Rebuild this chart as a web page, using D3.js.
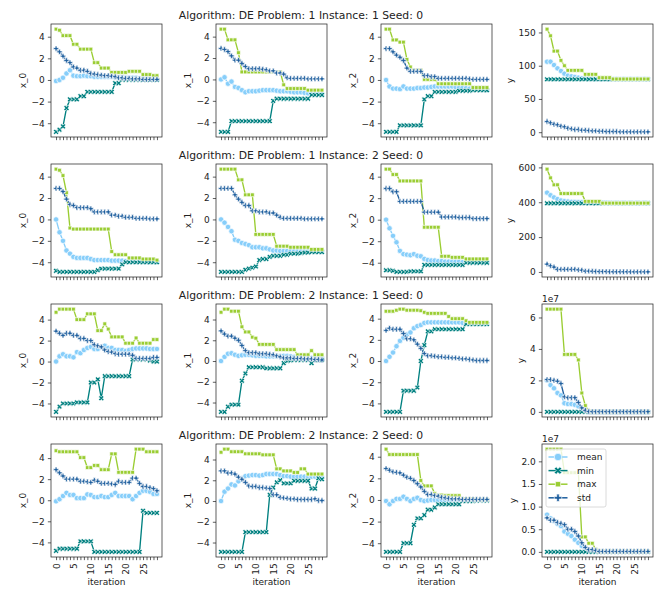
<!DOCTYPE html>
<html>
<head>
<meta charset="utf-8">
<script src="https://cdn.jsdelivr.net/npm/d3@7"></script>
<style>
  body { margin: 0; background: #fff; }
  svg text { font-family: "DejaVu Sans", sans-serif; fill: #222; }
</style>
</head>
<body>
<svg id="chart" width="664" height="598"></svg>
<script>
// DATA: one row per run, one panel per variable, four statistics per panel
const iterations = [0,1,2,3,4,5,6,7,8,9,10,11,12,13,14,15,16,17,18,19,20,21,22,23,24,25,26,27,28,29];
const stats = ["mean", "min", "max", "std"];
const variables = ["x_0", "x_1", "x_2", "y"];
const runTitles = [
  "Algorithm: DE Problem: 1 Instance: 1 Seed: 0",
  "Algorithm: DE Problem: 1 Instance: 2 Seed: 0",
  "Algorithm: DE Problem: 2 Instance: 1 Seed: 0",
  "Algorithm: DE Problem: 2 Instance: 2 Seed: 0"
];
const xTickLabels = [0, 5, 10, 15, 20, 25];
const xVarTicks = [-4, -2, 0, 2, 4];
const yTicksByRun = [[0, 50, 100, 150], [0, 200, 400, 600], [0, 2, 4, 6], [0, 0.5, 1, 1.5, 2]];
const yOffsetByRun = ["", "", "1e7", "1e7"];   // y of problem 2 is given in units of 1e7

// Problem 1, Instance 1
const p1i1_x0_mean = [-0.1,0.0,0.2,0.6,0.9,0.4,0.35,0.35,0.4,0.35,0.35,0.3,0.3,0.3,0.3,0.3,0.3,0.25,0.25,0.25,0.2,0.2,0.2,0.2,0.15,0.15,0.1,0.1,0.1,0.05];
const p1i1_x0_min  = [-4.8,-4.6,-4.3,-2.6,-1.8,-1.8,-1.8,-1.5,-1.5,-1.1,-1.1,-1.1,-1.1,-1.1,-1.1,-1.1,-1.1,-0.3,-0.3,0.02,0.02,0.02,0.02,0.02,0.02,0.02,0.02,0.02,0.02,0.02];
const p1i1_x0_max  = [4.7,4.6,4.1,4.1,4.1,3.3,3.3,2.85,2.85,2.85,2.85,1.6,1.6,1.1,1.1,1.1,0.7,0.7,0.7,0.7,0.7,0.8,0.8,0.8,0.8,0.5,0.5,0.5,0.4,0.4];
const p1i1_x0_std  = [2.9,2.6,2.2,1.8,1.6,1.2,1.1,0.9,0.9,0.8,0.6,0.55,0.5,0.45,0.4,0.4,0.35,0.3,0.2,0.2,0.15,0.15,0.1,0.1,0.1,0.05,0.05,0.05,0.05,0.05];
const p1i1_x1_mean = [0,0.2,-0.4,-0.2,-0.7,-0.8,-1.0,-1.2,-1.1,-1.1,-1.1,-1.05,-1.0,-1.0,-1.0,-1.0,-1.05,-1.1,-1.1,-1.1,-1.15,-1.2,-1.2,-1.2,-1.25,-1.3,-1.3,-1.3,-1.3,-1.35];
const p1i1_x1_min  = [-4.9,-4.9,-4.9,-3.9,-3.9,-3.9,-3.9,-3.9,-3.9,-3.9,-3.9,-3.9,-3.9,-3.9,-3.9,-2.0,-1.8,-1.8,-1.8,-1.8,-1.8,-1.8,-1.8,-1.8,-1.8,-1.8,-1.45,-1.45,-1.45,-1.45];
const p1i1_x1_max  = [4.7,4.7,3.7,3.7,3.7,2.5,0.7,0.7,0.7,0.7,0.7,0.7,0.7,0.7,0.7,0.7,0.7,0.7,-0.5,-0.85,-0.85,-0.85,-0.85,-0.85,-0.85,-1.0,-1.0,-1.0,-1.0,-1.0];
const p1i1_x1_std  = [2.9,2.8,2.6,2.2,1.8,1.8,1.5,1.2,1.0,1.0,1.0,1.0,0.95,0.9,0.8,0.8,0.6,0.6,0.5,0.15,0.1,0.1,0.1,0.1,0.1,0.05,0.05,0.05,0.05,0.05];
const p1i1_x2_mean = [0,-0.6,-0.8,-0.8,-0.85,-0.6,-0.8,-0.8,-0.8,-0.75,-0.75,-0.7,-0.7,-0.65,-0.6,-0.6,-0.6,-0.6,-0.6,-0.6,-0.65,-0.7,-0.7,-0.75,-0.8,-0.8,-0.85,-0.85,-0.9,-0.9];
const p1i1_x2_min  = [-4.8,-4.8,-4.8,-4.8,-4.2,-4.2,-4.2,-4.2,-4.2,-4.2,-4.2,-1.8,-1.5,-1.5,-1.1,-1.1,-1.1,-1.1,-1.1,-1.1,-1.1,-1.0,-1.0,-1.0,-1.0,-0.95,-0.95,-0.95,-0.95,-0.95];
const p1i1_x2_max  = [4.7,4.7,3.7,3.7,3.5,3.5,1.9,1.2,0.9,0.9,0.9,0.05,0.05,0.05,0.05,-0.35,-0.35,-0.35,-0.35,-0.35,-0.35,-0.35,-0.35,-0.35,-0.35,-0.7,-0.7,-0.7,-0.7,-0.7];
const p1i1_x2_std  = [2.9,2.9,2.6,2.3,2.1,1.8,1.1,0.8,0.8,0.8,0.8,0.4,0.4,0.3,0.3,0.15,0.15,0.15,0.15,0.15,0.15,0.15,0.15,0.15,0.1,0.05,0.05,0.05,0.05,0.05];
const p1i1_y_mean  = [106,106,101,96,92,88,85,84,83,82,81,81,80.5,80.5,80,80,80,80,80,80,80,80,80,80,80,80,80,80,80,80];
const p1i1_y_min   = [79.5,79.5,79.5,79.5,79.5,79.5,79.5,79.5,79.5,79.5,79.5,79.5,79.5,79.5,79.5,79.5,79.5,79.5,79.5,79.5,79.5,79.5,79.5,79.5,79.5,79.5,79.5,79.5,79.5,79.5];
const p1i1_y_max   = [155,145,122,122,108,100,93,93,93,93,93,87,87,87,87,82,82,82,82,80,80,80,80,80,80,80,80,80,80,80];
const p1i1_y_std   = [16,14,12,11,9,8,6,5,4,4,3,3,2.5,2,2,1.5,1.5,1,1,1,1,0.5,0.5,0.5,0.5,0.5,0.5,0.5,0.5,0.5];

// Problem 1, Instance 2
const p1i2_x0_mean = [0,-1.2,-2.0,-2.9,-3.2,-3.5,-3.6,-3.6,-3.6,-3.6,-3.7,-3.8,-3.8,-3.8,-3.8,-3.8,-3.85,-3.85,-3.85,-3.85,-3.9,-3.9,-3.9,-3.9,-3.9,-3.9,-3.95,-3.95,-3.95,-3.95];
const p1i2_x0_min  = [-4.8,-4.9,-4.9,-4.9,-4.9,-4.9,-4.9,-4.9,-4.9,-4.9,-4.9,-4.9,-4.75,-4.6,-4.6,-4.6,-4.6,-4.6,-4.6,-4.2,-4.0,-4.0,-4.0,-4.0,-4.0,-4.0,-4.0,-4.0,-4.0,-4.0];
const p1i2_x0_max  = [4.7,4.6,4.1,2.5,-0.8,-0.9,-0.9,-0.9,-0.9,-0.9,-0.9,-0.9,-0.9,-0.9,-0.9,-0.9,-3.0,-3.3,-3.3,-3.3,-3.3,-3.6,-3.6,-3.6,-3.6,-3.7,-3.7,-3.7,-3.7,-3.8];
const p1i2_x0_std  = [2.9,2.9,2.6,1.9,1.4,1.3,1.1,1.1,1.1,1.1,1.0,0.7,0.7,0.7,0.7,0.7,0.4,0.4,0.3,0.3,0.2,0.2,0.2,0.1,0.1,0.1,0.1,0.05,0.05,0.05];
const p1i2_x1_mean = [0,-0.3,-0.7,-1.1,-1.9,-2.0,-2.2,-2.3,-2.4,-2.6,-2.6,-2.6,-2.7,-2.7,-2.8,-2.9,-2.9,-2.95,-2.95,-2.95,-2.95,-2.95,-2.95,-2.95,-2.95,-2.95,-2.95,-2.95,-2.95,-2.95];
const p1i2_x1_min  = [-4.9,-4.9,-4.9,-4.9,-4.9,-4.9,-4.9,-4.7,-4.6,-4.5,-4.4,-3.8,-3.7,-3.7,-3.5,-3.4,-3.4,-3.4,-3.3,-3.3,-3.2,-3.2,-3.2,-3.15,-3.1,-3.1,-3.05,-3.05,-3.05,-3.05];
const p1i2_x1_max  = [4.7,4.7,4.7,4.7,4.7,3.7,3.7,2.3,2.3,2.3,-1.4,-1.4,-1.4,-1.4,-1.4,-1.4,-2.5,-2.5,-2.5,-2.5,-2.6,-2.6,-2.6,-2.6,-2.6,-2.6,-2.8,-2.8,-2.8,-2.8];
const p1i2_x1_std  = [2.9,2.9,2.9,2.9,2.3,1.9,1.6,1.3,1.3,0.8,0.8,0.7,0.7,0.7,0.6,0.6,0.4,0.2,0.1,0.1,0.1,0.1,0.1,0.1,0.05,0.05,0.05,0.05,0.05,0.05];
const p1i2_x2_mean = [0,-0.8,-1.5,-2.1,-2.9,-3.2,-3.25,-3.3,-3.2,-3.35,-3.4,-3.65,-3.75,-3.8,-3.8,-3.85,-3.85,-3.9,-3.9,-3.9,-3.9,-3.9,-3.95,-3.95,-3.95,-3.95,-3.95,-3.95,-3.95,-3.95];
const p1i2_x2_min  = [-4.7,-4.7,-4.75,-4.85,-4.85,-4.85,-4.85,-4.8,-4.8,-4.8,-4.8,-4.2,-4.2,-4.2,-4.2,-4.2,-4.2,-4.2,-4.2,-4.2,-4.2,-4.2,-4.2,-4.0,-4.0,-4.0,-4.0,-4.0,-4.0,-4.0];
const p1i2_x2_max  = [4.7,4.7,4.2,4.2,3.6,3.6,3.6,3.6,3.6,3.6,3.6,-0.7,-0.7,-0.7,-0.7,-0.7,-3.4,-3.4,-3.4,-3.5,-3.5,-3.5,-3.5,-3.65,-3.65,-3.65,-3.65,-3.65,-3.65,-3.65];
const p1i2_x2_std  = [2.9,2.9,2.6,2.6,1.7,1.7,1.7,1.7,1.7,1.7,1.7,0.7,0.7,0.7,0.7,0.7,0.25,0.25,0.25,0.25,0.25,0.2,0.2,0.2,0.2,0.1,0.1,0.1,0.1,0.1];
const p1i2_y_mean  = [455,440,428,418,410,406,404,402,401,400,400,399,399,398,398,397,397,397,396,396,396,396,396,395.5,395.5,395.5,395.5,395.5,395.5,395.5];
const p1i2_y_min   = [394,394,394,394,394,394,394,394,394,394,394,394,394,394,394,394,394,394,394,394,394,394,394,394,394,394,394,394,394,394];
const p1i2_y_max   = [590,540,500,500,450,450,450,450,450,450,450,405,405,405,405,405,395,395,395,395,395,395,395,395,395,395,395,395,395,395];
const p1i2_y_std   = [45,35,28,15,15,15,15,15,15,12,10,5,5,4,3,2,2,2,1,1,1,1,1,1,0.5,0.5,0.5,0.5,0.5,0.5];

// Problem 2, Instance 1
const p2i1_x0_mean = [0,0.5,0.7,0.5,0.5,0.4,0.9,0.8,1.1,1.3,1.4,1.2,1.2,1.4,1.5,1.3,1.3,1.1,1.1,1.1,1.0,1.1,1.2,1.25,1.25,1.25,1.25,1.2,1.2,1.2];
const p2i1_x0_min  = [-4.8,-4.3,-4.0,-4.0,-4.0,-4.0,-3.9,-3.9,-3.9,-3.9,-2.0,-2.0,-1.7,-3.5,-1.4,-1.4,-1.4,-1.4,-1.4,-1.4,-1.4,-1.4,0.2,0.2,0.2,0.2,0.2,0.1,0.0,0.0];
const p2i1_x0_max  = [4.7,5.0,5.0,5.0,5.0,5.0,4.0,4.0,4.0,4.55,4.55,4.55,2.95,2.95,3.6,3.1,2.35,2.35,2.35,2.35,1.75,1.75,1.75,2.25,1.75,1.75,1.75,1.75,2.1,2.1];
const p2i1_x0_std  = [2.9,2.7,2.5,2.7,2.7,2.5,2.5,2.2,2.2,2.0,2.0,1.6,1.5,1.4,1.1,0.95,0.9,0.75,0.7,0.7,0.7,0.7,0.6,0.3,0.3,0.3,0.3,0.3,0.4,0.4];
const p2i1_x1_mean = [0,0.4,0.7,0.75,0.6,0.5,0.55,0.6,0.6,0.55,0.5,0.5,0.5,0.45,0.45,0.45,0.45,0.5,0.5,0.5,0.45,0.4,0.35,0.3,0.3,0.3,0.3,0.3,0.3,0.3];
const p2i1_x1_min  = [-4.9,-4.9,-4.4,-4.2,-4.2,-4.2,-1.9,-1.2,-0.6,-0.6,-0.6,-0.6,-0.6,-0.7,-0.7,-0.7,-0.7,-0.7,-0.2,0.0,0.05,0.1,0.1,0.1,0.1,0.1,-0.2,0.1,0.1,0.1];
const p2i1_x1_max  = [4.7,5.0,5.0,4.8,4.8,4.8,3.3,2.8,2.8,2.3,2.2,1.6,1.6,1.6,1.6,1.6,1.1,1.1,1.1,1.1,1.1,1.1,0.6,0.6,0.6,0.6,1.0,0.6,0.6,0.6];
const p2i1_x1_std  = [2.9,2.6,2.4,2.4,2.2,2.0,1.5,1.0,0.8,0.8,0.8,0.7,0.7,0.7,0.65,0.6,0.5,0.4,0.3,0.3,0.3,0.25,0.25,0.25,0.2,0.2,0.2,0.15,0.15,0.1];
const p2i1_x2_mean = [0,0.4,0.8,1.4,1.9,2.2,2.5,2.7,3.1,3.3,3.4,3.6,3.65,3.65,3.65,3.65,3.65,3.65,3.65,3.65,3.65,3.65,3.6,3.6,3.55,3.55,3.55,3.55,3.55,3.55];
const p2i1_x2_min  = [-4.8,-4.8,-4.8,-4.8,-4.8,-2.8,-2.8,-2.8,-2.8,-2.5,0.0,1.5,2.8,2.8,3.0,3.0,3.0,3.0,3.0,3.0,3.0,3.0,3.0,3.5,3.5,3.5,3.5,3.5,3.5,3.5];
const p2i1_x2_max  = [4.7,4.7,4.7,4.8,4.9,4.9,4.8,4.8,4.8,4.8,4.75,4.6,4.5,4.5,4.5,4.5,4.5,4.5,4.2,4.0,4.0,4.0,4.0,3.8,3.65,3.65,3.65,3.65,3.65,3.65];
const p2i1_x2_std  = [2.9,3.1,3.0,3.0,3.0,2.6,2.1,2.1,2.0,1.6,1.2,0.7,0.5,0.5,0.45,0.4,0.4,0.35,0.35,0.3,0.3,0.25,0.2,0.2,0.15,0.1,0.05,0.05,0.05,0.05];
const p2i1_y_mean  = [2.0,1.7,1.5,1.2,1.05,0.55,0.5,0.5,0.45,0.35,0.15,0.05,0.01,0.01,0.01,0.01,0.01,0.01,0.01,0.01,0.01,0.01,0.01,0.01,0.01,0.01,0.01,0.01,0.01,0.01];
const p2i1_y_min   = [0,0,0,0,0,0,0,0,0,0,0,0,0,0,0,0,0,0,0,0,0,0,0,0,0,0,0,0,0,0];
const p2i1_y_max   = [6.53,6.53,6.53,6.53,6.53,3.65,3.65,3.65,3.65,3.3,1.2,0.4,0.05,0.02,0.01,0.01,0.01,0.01,0.01,0.01,0.01,0.01,0.01,0.01,0.01,0.01,0.01,0.01,0.01,0.01];
const p2i1_y_std   = [2.05,2.05,2.0,1.95,1.8,0.95,0.9,0.9,0.9,0.6,0.25,0.1,0.02,0.01,0.01,0.01,0.01,0.01,0.01,0.01,0.01,0.01,0.01,0.01,0.01,0.01,0.01,0.01,0.01,0.01];

// Problem 2, Instance 2
const p2i2_x0_mean = [-0.1,0.1,0.4,0.7,0.5,0.5,0.2,0.2,0.2,0.55,0.5,0.3,0.3,0.4,0.3,0.3,0.5,0.7,0.4,0.4,0.4,0.4,0.1,0.4,0.7,0.9,0.9,0.8,0.6,0.6];
const p2i2_x0_min  = [-4.8,-4.6,-4.6,-4.6,-4.6,-4.6,-4.6,-3.9,-3.9,-3.9,-3.9,-4.9,-4.9,-4.9,-4.9,-4.9,-4.9,-4.9,-4.9,-4.9,-4.9,-4.9,-4.9,-4.9,-4.9,-1.0,-1.2,-1.2,-1.2,-1.2];
const p2i2_x0_max  = [4.7,4.6,4.6,4.6,4.6,4.6,4.6,4.05,4.05,3.1,3.1,3.3,3.3,2.9,2.9,2.9,4.4,4.4,2.65,2.65,2.65,2.65,2.65,4.85,4.85,4.85,4.6,4.6,4.6,4.6];
const p2i2_x0_std  = [2.9,2.6,2.3,2.0,2.0,2.0,2.0,1.8,1.8,1.75,1.7,1.9,1.8,1.6,1.6,1.6,1.55,1.5,1.8,1.7,1.7,1.7,2.1,2.1,1.6,1.3,1.3,1.2,1.1,0.9];
const p2i2_x1_mean = [0,0.9,1.2,1.6,1.5,1.9,2.2,2.4,2.45,2.5,2.5,2.45,2.5,2.6,2.6,2.6,2.6,2.5,2.4,2.4,2.35,2.35,2.35,2.35,2.35,2.35,2.35,2.35,2.3,2.3];
const p2i2_x1_min  = [-4.9,-4.9,-4.9,-4.9,-4.9,-4.9,-4.9,-3.0,-3.0,-3.0,-3.0,-3.0,-3.0,-3.0,0.6,1.3,1.8,2.0,1.7,1.7,1.7,1.95,1.95,1.95,1.95,1.95,1.2,1.2,2.2,2.1];
const p2i2_x1_max  = [4.7,5.0,5.0,4.75,4.75,4.75,4.75,4.55,4.55,4.55,4.55,4.55,4.45,4.45,4.45,4.45,3.1,3.1,2.9,2.9,2.9,2.75,2.75,3.1,3.1,2.6,2.6,2.6,2.6,2.6];
const p2i2_x1_std  = [2.9,2.9,2.7,2.7,2.6,2.3,2.1,1.8,1.45,1.4,1.4,1.3,1.3,1.25,1.2,0.6,0.6,0.35,0.3,0.25,0.2,0.2,0.15,0.15,0.15,0.15,0.15,0.2,0.05,0.05];
const p2i2_x2_mean = [-0.1,-0.4,-0.1,0.1,0.1,0.3,0.1,-0.1,0.1,0.2,0.0,-0.1,-0.05,0.0,0.0,0.0,0.0,0.0,0.0,0.0,0.0,0.0,0.0,0.0,0.0,0.0,0.0,0.0,0.0,0.0];
const p2i2_x2_min  = [-4.8,-4.8,-4.8,-4.8,-4.8,-4.0,-4.0,-4.0,-2.3,-1.7,-1.7,-1.4,-0.9,-0.9,-0.7,-0.4,-0.4,-0.4,-0.4,-0.4,-0.4,-0.4,-0.1,-0.1,-0.1,-0.1,-0.05,-0.05,-0.05,-0.05];
const p2i2_x2_max  = [4.7,4.2,4.2,4.2,4.2,4.2,4.2,4.2,4.2,4.2,1.8,1.3,1.3,1.3,0.6,0.45,0.45,0.4,0.4,0.4,0.4,0.4,0.1,0.1,0.1,0.1,0.05,0.05,0.05,0.05];
const p2i2_x2_std  = [2.9,2.75,2.6,2.55,2.5,2.3,2.1,2.0,1.8,1.5,1.2,0.8,0.5,0.5,0.4,0.35,0.25,0.2,0.15,0.1,0.1,0.1,0.05,0.05,0.05,0.05,0.05,0.05,0.05,0.05];
const p2i2_y_mean  = [0.82,0.74,0.68,0.62,0.57,0.45,0.4,0.35,0.27,0.2,0.13,0.08,0.05,0.03,0.02,0.01,0.01,0.01,0.01,0.01,0.01,0.01,0.01,0.01,0.01,0.01,0.01,0.01,0.01,0.01];
const p2i2_y_min   = [0,0,0,0,0,0,0,0,0,0,0,0,0,0,0,0,0,0,0,0,0,0,0,0,0,0,0,0,0,0];
const p2i2_y_max   = [2.27,2.27,2.27,2.27,2.27,1.75,1.75,1.75,1.75,1.75,0.33,0.33,0.19,0.19,0.05,0.01,0.01,0.01,0.01,0.01,0.01,0.01,0.01,0.01,0.01,0.01,0.01,0.01,0.01,0.01];
const p2i2_y_std   = [0.75,0.7,0.7,0.65,0.63,0.6,0.5,0.5,0.45,0.35,0.2,0.1,0.05,0.05,0.03,0.01,0.01,0.01,0.01,0.01,0.01,0.01,0.01,0.01,0.01,0.01,0.01,0.01,0.01,0.01];

const runs = [
  { x_0: {mean: p1i1_x0_mean, min: p1i1_x0_min, max: p1i1_x0_max, std: p1i1_x0_std},
    x_1: {mean: p1i1_x1_mean, min: p1i1_x1_min, max: p1i1_x1_max, std: p1i1_x1_std},
    x_2: {mean: p1i1_x2_mean, min: p1i1_x2_min, max: p1i1_x2_max, std: p1i1_x2_std},
    y:   {mean: p1i1_y_mean,  min: p1i1_y_min,  max: p1i1_y_max,  std: p1i1_y_std} },
  { x_0: {mean: p1i2_x0_mean, min: p1i2_x0_min, max: p1i2_x0_max, std: p1i2_x0_std},
    x_1: {mean: p1i2_x1_mean, min: p1i2_x1_min, max: p1i2_x1_max, std: p1i2_x1_std},
    x_2: {mean: p1i2_x2_mean, min: p1i2_x2_min, max: p1i2_x2_max, std: p1i2_x2_std},
    y:   {mean: p1i2_y_mean,  min: p1i2_y_min,  max: p1i2_y_max,  std: p1i2_y_std} },
  { x_0: {mean: p2i1_x0_mean, min: p2i1_x0_min, max: p2i1_x0_max, std: p2i1_x0_std},
    x_1: {mean: p2i1_x1_mean, min: p2i1_x1_min, max: p2i1_x1_max, std: p2i1_x1_std},
    x_2: {mean: p2i1_x2_mean, min: p2i1_x2_min, max: p2i1_x2_max, std: p2i1_x2_std},
    y:   {mean: p2i1_y_mean,  min: p2i1_y_min,  max: p2i1_y_max,  std: p2i1_y_std} },
  { x_0: {mean: p2i2_x0_mean, min: p2i2_x0_min, max: p2i2_x0_max, std: p2i2_x0_std},
    x_1: {mean: p2i2_x1_mean, min: p2i2_x1_min, max: p2i2_x1_max, std: p2i2_x1_std},
    x_2: {mean: p2i2_x2_mean, min: p2i2_x2_min, max: p2i2_x2_max, std: p2i2_x2_std},
    y:   {mean: p2i2_y_mean,  min: p2i2_y_min,  max: p2i2_y_max,  std: p2i2_y_std} }
];

// SETUP: layout of the 4x4 grid
const colLeft = [51, 216, 381, 542], colWidth = 111;
const rowTop = [24, 164, 304, 444], rowHeight = 113;
const titleX = 301;
const colors = { mean: "#87cefa", min: "#008080", max: "#9acd32", std: "#1d5e9e" };
const tickLen = 3.15, tickPad = 3.15, lineW = 1.35, markerSize = 5.4;

const svg = d3.select("#chart");

// marker shapes: circle, filled X, square, filled plus
function polyPath(pts, size) {
  return "M" + pts.map(p => (p[0] * size).toFixed(2) + "," + (p[1] * size).toFixed(2)).join("L") + "Z";
}
const plusPts = [[-1,-3],[1,-3],[1,-1],[3,-1],[3,1],[1,1],[1,3],[-1,3],[-1,1],[-3,1],[-3,-1],[-1,-1]].map(p => [p[0] / 6, p[1] / 6]);
const xPts = [[0.25,0],[0.5,0.25],[0.75,0],[1,0.25],[0.75,0.5],[1,0.75],[0.75,1],[0.5,0.75],[0.25,1],[0,0.75],[0.25,0.5],[0,0.25]].map(p => [p[0] - 0.5, p[1] - 0.5]);
function markerFor(stat, size) {
  if (stat === "mean") return d3.symbol(d3.symbolCircle, Math.PI * (size / 2) ** 2)();
  if (stat === "max") return d3.symbol(d3.symbolSquare, (size / Math.SQRT2) ** 2)();
  if (stat === "min") return polyPath(xPts, size);
  return polyPath(plusPts, size);
}

const minus = s => String(s).replace("-", "\u2212");

runs.forEach((run, r) => {
  // row title
  svg.append("text")
    .attr("x", titleX).attr("y", rowTop[r] - 5)
    .attr("text-anchor", "middle")
    .style("font-size", "10.8px")
    .text(runTitles[r]);

  variables.forEach((v, c) => {
    const data = run[v];
    const g = svg.append("g").attr("transform", `translate(${colLeft[c]},${rowTop[r]})`);

    const all = stats.flatMap(s => data[s]);
    const [lo, hi] = d3.extent(all);
    const pad = (hi - lo) * 0.05;

    const x = d3.scaleLinear().domain([-1.45, 30.45]).range([0, colWidth]);
    const y = d3.scaleLinear().domain([lo - pad, hi + pad]).range([rowHeight, 0]);

    // lines + markers, one series after the other
    const line = d3.line().x((d, i) => x(iterations[i])).y(d => y(d));
    stats.forEach(s => {
      g.append("path").datum(data[s])
        .attr("fill", "none").attr("stroke", colors[s]).attr("stroke-width", lineW)
        .attr("d", line);
      g.append("g").selectAll("path").data(data[s]).join("path")
        .attr("transform", (d, i) => `translate(${x(iterations[i])},${y(d)})`)
        .attr("d", markerFor(s, markerSize))
        .attr("fill", colors[s]).attr("stroke", "#fff").attr("stroke-width", 0.68);
    });

    // x axis: a tick per iteration, labels only on the last row
    const last = r === runs.length - 1;
    const xAxis = g.append("g").attr("transform", `translate(0,${rowHeight})`)
      .call(d3.axisBottom(x).tickValues(iterations).tickSize(tickLen).tickPadding(tickPad)
        .tickFormat(d => (last && xTickLabels.includes(d)) ? d : ""));
    xAxis.attr("font-size", null).attr("font-family", null);
    xAxis.select(".domain").remove();
    xAxis.selectAll("line").attr("stroke", "#222").attr("stroke-width", 0.72);
    xAxis.selectAll("text")
      .style("font-size", "9px")
      .attr("y", null).attr("dy", null)
      .attr("transform", `translate(0,${tickLen + tickPad}) rotate(-90)`)
      .attr("text-anchor", "end")
      .attr("dominant-baseline", "central");

    // y axis
    const yTicks = c === 3 ? yTicksByRun[r] : xVarTicks;
    const fmt = (c === 3 && r === 3) ? d => minus(d3.format(".1f")(d)) : d => minus(d);
    const yAxis = g.append("g")
      .call(d3.axisLeft(y).tickValues(yTicks).tickSize(tickLen).tickPadding(tickPad).tickFormat(fmt));
    yAxis.attr("font-size", null).attr("font-family", null);
    yAxis.select(".domain").remove();
    yAxis.selectAll("line").attr("stroke", "#222").attr("stroke-width", 0.72);
    yAxis.selectAll("text").style("font-size", "9px");

    // spines
    g.append("rect")
      .attr("width", colWidth).attr("height", rowHeight)
      .attr("fill", "none").attr("stroke", "#222").attr("stroke-width", 0.72);

    // y label, placed left of the widest tick label
    const minX = d3.min(yAxis.selectAll("text").nodes(), n => n.getBBox().x);
    g.append("text")
      .attr("transform", `translate(${minX - 5.7},${rowHeight / 2}) rotate(-90)`)
      .attr("text-anchor", "middle")
      .style("font-size", "9px")
      .text(v);

    // scale offset text
    if (c === 3 && yOffsetByRun[r]) {
      g.append("text").attr("x", 0).attr("y", -2.5)
        .style("font-size", "9px").text(yOffsetByRun[r]);
    }

    if (last) {
      g.append("text")
        .attr("x", colWidth / 2).attr("y", 585.3 - rowTop[r])
        .attr("text-anchor", "middle")
        .style("font-size", "9px")
        .text("iteration");
    }

    // legend in the last panel
    if (last && c === 3) {
      const lg = g.append("g").attr("transform", "translate(4,5)");
      lg.append("rect")
        .attr("width", 60).attr("height", 58).attr("rx", 2)
        .attr("fill", "#fff").attr("fill-opacity", 0.8)
        .attr("stroke", "#ccc").attr("stroke-width", 0.72);
      stats.forEach((s, k) => {
        const yy = 8 + k * 13.6;
        lg.append("line")
          .attr("x1", 2.5).attr("x2", 21.5).attr("y1", yy).attr("y2", yy)
          .attr("stroke", colors[s]).attr("stroke-width", 1.5);
        lg.append("path")
          .attr("transform", `translate(12,${yy})`)
          .attr("d", markerFor(s, 7.5))
          .attr("fill", colors[s]).attr("stroke", "#fff").attr("stroke-width", 0.68);
        lg.append("text")
          .attr("x", 31).attr("y", yy).attr("dy", "0.35em")
          .style("font-size", "9px")
          .text(s);
      });
    }
  });
});
</script>
</body>
</html>
